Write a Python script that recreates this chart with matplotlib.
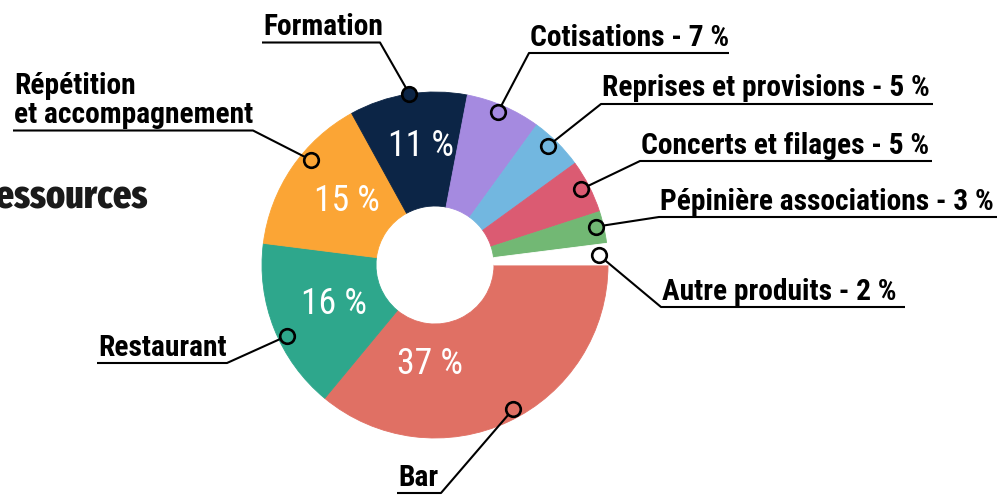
import matplotlib
matplotlib.use("Agg")
import matplotlib.pyplot as plt
import numpy as np

# ---------------- data ----------------
categories = ["Bar", "Restaurant", "Répétition\net accompagnement", "Formation",
              "Cotisations - 7 %", "Reprises et provisions - 5 %",
              "Concerts et filages - 5 %", "Pépinière associations - 3 %",
              "Autre produits - 2 %"]
shares = [36, 16, 15, 11, 7, 5, 5, 3, 2]
slice_labels = ["37 %", "16 %", "15 %", "11 %", "", "", "", "", ""]
colors = ["#E07064", "#2EA78C", "#FBA535", "#0C2546", "#A58AE0",
          "#72B7E0", "#DB5B72", "#72B874", "#FFFFFF"]
title = "Ressources"

# ---------------- layout (image pixel coords, y downward) ----------------
W, H = 1008, 495
CX, CY_IMG = 435, 265
R_OUT, R_IN = 173, 59
marker_pos = [(3.2, 164), (4.0, 164), (-6.0, 163), (-0.5, 173), (1.0, 166),
              (1.5, 164), (0.4, 165), (0.8, 165), (-0.1, 164)]
leaders = [(441, 493), (227, 363), (253, 130.5), (380, 42.5), (529, 53),
           (601, 104), (640, 161), (659, 217), (661, 307)]
leader_end = [397, 97, 13, 262, 729, 933, 932, 997, 905]
label_width = [40, 126, 238, 118, 200, 331, 289, 336, 236]
pct_pos = [(-93, 99), (201, 108), (144, 109), (96.7, 120)]

FONT = ["Roboto Condensed", "Roboto", "DejaVu Sans"]
TITLE_FONT = ["Fira Sans Extra Condensed", "Roboto Condensed", "DejaVu Sans"]


def Y(y):
    return H - y


CY = Y(CY_IMG)

fig = plt.figure(figsize=(W / 100, H / 100), dpi=100)
ax = fig.add_axes([0, 0, 1, 1])

wedges, _ = ax.pie(shares, colors=colors, startangle=0, counterclock=False,
                   radius=R_OUT, center=(CX, CY), frame=True,
                   wedgeprops=dict(width=R_OUT - R_IN, linewidth=0.6))
for w in wedges:
    w.set_edgecolor(w.get_facecolor())

ax.set_xlim(0, W)
ax.set_ylim(0, H)
ax.set_aspect("equal")
ax.axis("off")
renderer = fig.canvas.get_renderer()

label_texts = []
all_labels = []
for i, w in enumerate(wedges):
    mid = (w.theta1 + w.theta2) / 2 + marker_pos[i][0]
    r = marker_pos[i][1]
    mx = CX + r * np.cos(np.radians(mid))
    my = CY + r * np.sin(np.radians(mid))
    ex, ey = leaders[i]
    endx = leader_end[i]
    ax.plot([mx, ex, endx], [my, Y(ey), Y(ey)], color="black", lw=1.5,
            solid_capstyle="butt", zorder=3)
    ax.plot([mx], [my], marker="o", ms=10.5, mfc=w.get_facecolor(),
            mec="black", mew=1.9, zorder=4)
    left = min(ex, endx)
    lines = categories[i].split("\n")
    for k, line in enumerate(reversed(lines)):
        t = ax.text(left + 1, Y(ey - 7.5 - k * 28.5), line, family=FONT,
                    weight="bold", fontsize=21, color="black", ha="left",
                    va="baseline", zorder=5)
        all_labels.append(t)
        if k == 0:
            label_texts.append((t, label_width[i]))

# common font size so widths match the reference underlines
ratios = [tw / t.get_window_extent(renderer).width for t, tw in label_texts]
fs = min(21 * float(np.median(ratios)), 21.5)
for t in all_labels:
    t.set_fontsize(fs)

pct_texts = []
for i, lab in enumerate(slice_labels):
    if not lab:
        continue
    a, r = pct_pos[i]
    t = ax.text(CX + r * np.cos(np.radians(a)), CY + r * np.sin(np.radians(a)),
                lab, family=FONT, fontsize=25, color="white",
                ha="center", va="center", zorder=5)
    pct_texts.append(t)
pr = float(np.median([66 / t.get_window_extent(renderer).width
                      for t in pct_texts]))
for t in pct_texts:
    t.set_fontsize(min(25 * pr, 26))

# title, cut at the left edge as in the reference
tt = ax.text(148, Y(207), title, family=TITLE_FONT, weight="heavy",
             fontsize=30, color="#1a1a1a", ha="right", va="baseline",
             clip_on=False)
probe = ax.text(0, 0, title[1:], family=TITLE_FONT, weight="heavy",
                fontsize=30)
pw = probe.get_window_extent(renderer).width
probe.remove()
tt.set_fontsize(min(30 * 152 / pw, 32))

fig.savefig("out.png", dpi=100)
